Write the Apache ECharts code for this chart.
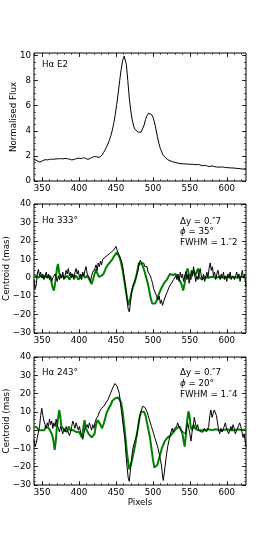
<!DOCTYPE html>
<html><head><meta charset="utf-8">
<script src="https://cdn.jsdelivr.net/npm/echarts@6/dist/echarts.min.js"></script>
<style>html,body{margin:0;padding:0;background:#fff}#c{width:273px;height:539px}</style>
</head><body><div id="c"></div>
<script>
// ---------- data ----------
const xMin = 339, xMax = 626;
const xTicks = [350, 400, 450, 500, 550, 600];
const fluxTicks = [0, 2, 4, 6, 8, 10];
const centTicks = [-30, -20, -10, 0, 10, 20, 30, 40];

const fluxX = [339,341,343,345,347,349,351,354,357,360,363,366,369,372,375,378,381,384,387,390,392,394,397,400,403,406,409,412,415,418,421,424,427,429,431,433,435,437,439,441,443,445,447,449,451,453,455,457,459,461,462,464,466,468,470,472,474,476,478,480,482,484,486,488,490,492,494,496,498,500,502,504,506,508,510,512,514,517,520,523,526,530,534,538,542,546,550,554,558,562,565,568,571,574,577,580,583,586,590,594,598,602,606,610,614,618,622,626];
const fluxY = [1.74,1.68,1.62,1.55,1.50,1.52,1.62,1.70,1.68,1.72,1.74,1.73,1.77,1.76,1.79,1.76,1.80,1.78,1.74,1.68,1.62,1.72,1.80,1.82,1.78,1.86,1.80,1.72,1.80,1.90,1.95,1.93,1.88,1.92,2.05,2.25,2.45,2.70,2.95,3.25,3.60,4.05,4.60,5.30,6.10,7.00,8.00,8.90,9.60,9.95,9.85,9.30,8.00,6.60,5.60,4.85,4.35,4.10,3.95,3.88,3.85,3.90,4.05,4.45,4.90,5.20,5.40,5.45,5.30,5.10,4.70,4.15,3.55,3.00,2.60,2.30,2.05,1.85,1.70,1.62,1.55,1.48,1.42,1.38,1.36,1.36,1.33,1.33,1.30,1.32,1.25,1.22,1.25,1.18,1.15,1.20,1.15,1.12,1.10,1.12,1.08,1.06,1.04,1.03,1.00,0.98,0.95,0.93];

// Panel 2 (H alpha 333 deg) - observed (black)
const p2BlackX = [339,340.5,342,343.5,345,346.5,348,349.5,351,352.5,354,355.5,357,358.5,360,361.5,363,364.5,366,367.5,369,370.5,372,373.5,375,376.5,378,379.5,381,382.5,384,385.5,387,388.5,390,391.5,393,394.5,396,397.5,399,400.5,402,403.5,405,406.5,408,409.5,411,412.5,414,415.5,417,418.5,420,421.5,423,424.5,426,427.5,429,430.5,432,433.5,435,436.5,438,439.5,441,442.5,444,445.5,447,448.5,450,451.5,453,454.5,456,457.5,459,460.5,462,463.5,465,466.5,468,469.5,471,472.5,474,475.5,477,478.5,480,481.5,483,484.5,486,487.5,489,490.5,492,493.5,495,496.5,498,499.5,501,502.5,504,505.5,507,508.5,510,511.5,513,514.5,516,517.5,519,520.5,522,523.5,525,526.5,528,529.5,531,532.5,534,535.5,537,538.5,540,541.5,543,544.5,546,547.5,549,550.5,552,553.5,555,556.5,558,559.5,561,562.5,564,565.5,567,568.5,570,571.5,573,574.5,576,577.5,579,580.5,582,583.5,585,586.5,588,589.5,591,592.5,594,595.5,597,598.5,600,601.5,603,604.5,606,607.5,609,610.5,612,613.5,615,616.5,618,619.5,621,622.5,624,625.5,626];
const p2BlackY = [-1,-6,-4,2,4.5,1,3,0,2,-1,1,3,0,2,-1,1,-2,0,-1,2,0,-2,1,-1,2,0,3,-1,1,4,2,5,1,3,0,2,-1,3,5,2,4,0,2,-1,3,1,4,6,2,3,0,-2,1,3,2,5,7,4,8,6,9,7,10,9,11,10,12,11,13,12,14,13,15,16,17,15,14,12,11,9,6,2,-2,-7,-12,-17,-18.5,-14,-8,-5,-3,-2,0,1,4,8,9.5,8,7,8,6,5,6,3,2,1,-1,-3,-6,-5,-9,-8,-12,-10,-14,-12,-15,-13,-11,-12,-8,-9,-5,-6,-3,-4,-1,-2,1,-1,2,-2,3,0,2,-2,1,3,-1,2,-3,0,4,1,6,2,-2,1,-1,3,5,1,-1,2,-2,0,3,0,5,8,4,6,1,3,-1,2,4,1,-1,2,0,3,-1,1,-2,2,0,3,-1,1,2,-1,1,3,0,2,-2,1,4,0,2,-3,-5];
// Panel 2 - model (green)
const p2GreenX = [339,342,345,348,351,354,357,360,362,364,366,368,370,371.5,373,375,378,381,384,387,390,393,396,399,402,405,408,411,414,417,419,421,423,425,427,430,433,436,439,442,445,448,451,453,455,457,459,461,463,465,467,469,471,473,475,477,479,481,483,485,487,489,491,493,495,497,499,501,503,505,507,509,511,513,515,517,519,521,523,525,527,529,531,533,535,537,539,541,543,545,547,549,551,553,555,557,559,561,563,565,567,569,571,575,580,585,590,595,600,605,610,615,620,626];
const p2GreenY = [0,1,0,1,0,1,0,1,-1,-5,-7,-2,5,7.5,3,0,1,0,1,-1,2,0,1,-1,0,2,0,1,-1,-3.5,-1,2,4.5,2,0.5,1,2,5,7,8.5,10,12,13.8,13,11,8,4,-1,-6,-11,-15,-12,-8,-5,-3,0,4,8,9,7.5,5.5,3,0,-3,-7,-11,-14,-14.5,-14,-12.5,-10,-8,-6,-4.5,-3,-2,-1,0,2,3,1.5,1,2,0,-1,-2,-4,-7,-3,3,5,1,-1,2,4,1,3,5,0,1,-1,0.5,0,0,0.5,0,0.5,0,0.5,0,0.5,0,0.5,0];

// Panel 3 (H alpha 243 deg) - observed (black)
const p3BlackX = [339,340.5,342,343.5,345,346.5,348,349.5,351,352.5,354,355.5,357,358.5,360,361.5,363,364.5,366,367.5,369,370.5,372,373.5,375,376.5,378,379.5,381,382.5,384,385.5,387,388.5,390,391.5,393,394.5,396,397.5,399,400.5,402,403.5,405,406.5,408,409.5,411,412.5,414,415.5,417,418.5,420,421.5,423,424.5,426,427.5,429,430.5,432,433.5,435,436.5,438,439.5,441,442.5,444,445.5,447,448.5,450,451.5,453,454.5,456,457.5,459,460.5,462,463.5,465,466.5,468,469.5,471,472.5,474,475.5,477,478.5,480,481.5,483,484.5,486,487.5,489,490.5,492,493.5,495,496.5,498,499.5,501,502.5,504,505.5,507,508.5,510,511.5,513,514,515.5,517,518.5,520,521.5,523,524.5,526,527.5,529,530.5,532,533.5,535,536.5,538,539.5,541,542.5,544,545.5,547,548.5,550,551.5,553,554.5,556,557.5,559,560.5,562,563.5,565,566.5,568,569.5,571,572.5,574,575.5,577,578.5,580,581.5,583,584.5,586,587.5,589,590.5,592,593.5,595,596.5,598,599.5,601,602.5,604,605.5,607,608.5,610,611.5,613,614.5,616,617.5,619,620.5,622,623.5,625,626];
const p3BlackY = [-5,-9,-7,-4,-3,2,8,12,8,5,3,1,4,2,6,3,5,1,4,2,6,3,1,-1,2,0,-2,1,-1,2,0,-1,-3,-1,2,5,3,1,4,2,0,2,-1,-3,-5,-2,1,0,3,1,4,2,0,3,1,4,6,5,8,10,9,12,11,13,12,15,14,17,18,20,21,23,24,25.5,24.5,24,22,20,15,10,5,0,-5,-13,-20,-26,-28,-22,-16,-11,-8,-6,-4,-2,2,6,9,11,13,14,12.5,12,10,8,6,4,2,0,-2,-4,-6,-8,-10,-13,-16,-19,-25,-27.5,-23,-18,-13,-9,-6,-3,-1,1,-1,1,0,2,4,2,3,0,1,-1,0,-2,1,4,1,-2,-6,-1,2,7,4,1,3,0,1,-1,0,-1,1,0,-1,0,2,8,11,7,9,11,12,8,4,0,-2,1,-1,0,2,4,1,0,-2,-1,2,0,3,1,-2,-3,1,0,4,2,-1,-4,-2,-6,-9];
// Panel 3 - model (green)
const p3GreenX = [339,341,343,345,347,349,351,353,355,357,359,361,363,365,367,368.5,370,371.5,373,374.5,376,378,380,382,384,386,388,390,392,394,396,398,400,402,404,406,407.5,409,411,413,415,417,419,421,423,425,427,429,431,433,435,437,439,441,443,445,447,449,451,453,455,457,459,461,463,465,467,468,470,472,474,476,478,480,482,484,486,488,490,492,494,496,498,500,502,504,506,508,510,512,514,516,518,520,522,524,526,528,530,532,534,536,538,540,541.5,543,544.5,546,548,549.5,551,553,555,557,559,561,563,565,570,575,580,585,590,595,600,605,610,615,620,626];
const p3GreenY = [2,1,1.5,0,-1,0,1,0,2,3,1,0,-2,-5,-10.8,-6,2,6,11,8,2,1,0,1,-1,2,0,1,0,1,-1,0,-1,-2,-4,2,5.5,1,0,-2,-3,-4,-5,-2,3,5.5,6.5,3,1,3,6,9,11,12,14,16,17,17.5,18,17.8,17.5,15,10,3,-5,-13,-19,-21.5,-19,-16,-12,-8,-3,2,7,10,11,10,8,4,0,-4,-10,-16,-20.5,-21,-19,-16,-13,-10,-8,-6,-5,-4,-4.5,-3,-2,-1,0,1,1.5,2,1,-2,-6,-9,-3,4,10.3,8,2,0,3,1,2,0,1,0,0,0.5,0,0.5,0,0,0.5,0,0,0.5,0,0.5];

// ---------- helpers ----------
const zip = (xs, ys) => xs.map((x, i) => [x, ys[i]]);
const range = (a, b, s) => { const r = []; for (let v = a; v <= b + 1e-9; v += s) r.push(+v.toFixed(4)); return r; };
const FONT = 'DejaVu Sans';
const FS = 8.7;
const fmt = v => String(v).replace('-', '\u2212');

const grids = [
  {left: 34, top: 53, width: 212, height: 128},
  {left: 34, top: 204, width: 212, height: 129},
  {left: 34, top: 357, width: 212, height: 128}
];
const yConf = [
  {min: 0, max: 10.2, major: fluxTicks, minor: range(0, 10, 0.5), name: 'Normalised Flux', gap: 16},
  {min: -30, max: 40, major: centTicks, minor: range(-30, 40, 2), name: 'Centroid (mas)', gap: 23},
  {min: -30, max: 40, major: centTicks, minor: range(-30, 40, 2), name: 'Centroid (mas)', gap: 23}
];
const xMinor = range(340, 620, 10);

const xAxis = [], yAxis = [];
grids.forEach((g, gi) => {
  const xBase = {gridIndex: gi, type: 'value', min: xMin, max: xMax, splitLine: {show: false},
    axisLine: {show: false, onZero: false}};
  xAxis.push(Object.assign({}, xBase, {position: 'bottom',
    axisTick: {show: true, inside: true, length: 4, customValues: xTicks, lineStyle: {color: '#000', width: 0.8}},
    axisLabel: {show: true, customValues: xTicks, margin: 3, fontSize: FS, fontFamily: FONT, color: '#000'},
    name: gi === 2 ? 'Pixels' : '', nameLocation: 'middle', nameGap: 13, nameMoveOverlap: false,
    nameTextStyle: {fontSize: FS, fontFamily: FONT, color: '#000'}}));
  xAxis.push(Object.assign({}, xBase, {position: 'bottom',
    axisTick: {show: true, inside: true, length: 2, customValues: xMinor, lineStyle: {color: '#000', width: 0.6}},
    axisLabel: {show: false}}));
  xAxis.push(Object.assign({}, xBase, {position: 'top',
    axisTick: {show: true, inside: true, length: 4, customValues: xTicks, lineStyle: {color: '#000', width: 0.8}},
    axisLabel: {show: false}}));
  xAxis.push(Object.assign({}, xBase, {position: 'top',
    axisTick: {show: true, inside: true, length: 2, customValues: xMinor, lineStyle: {color: '#000', width: 0.6}},
    axisLabel: {show: false}}));
  const c = yConf[gi];
  const yBase = {gridIndex: gi, type: 'value', min: c.min, max: c.max, splitLine: {show: false},
    axisLine: {show: false, onZero: false}};
  yAxis.push(Object.assign({}, yBase, {position: 'left',
    axisTick: {show: true, inside: true, length: 4, customValues: c.major, lineStyle: {color: '#000', width: 0.8}},
    axisLabel: {show: true, customValues: c.major, margin: 3, fontSize: FS, fontFamily: FONT, color: '#000', formatter: fmt},
    name: c.name, nameLocation: 'middle', nameGap: c.gap, nameMoveOverlap: false,
    nameTextStyle: {fontSize: FS, fontFamily: FONT, color: '#000'}}));
  yAxis.push(Object.assign({}, yBase, {position: 'left',
    axisTick: {show: true, inside: true, length: 2, customValues: c.minor, lineStyle: {color: '#000', width: 0.6}},
    axisLabel: {show: false}}));
  yAxis.push(Object.assign({}, yBase, {position: 'right',
    axisTick: {show: true, inside: true, length: 4, customValues: c.major, lineStyle: {color: '#000', width: 0.8}},
    axisLabel: {show: false}}));
  yAxis.push(Object.assign({}, yBase, {position: 'right',
    axisTick: {show: true, inside: true, length: 2, customValues: c.minor, lineStyle: {color: '#000', width: 0.6}},
    axisLabel: {show: false}}));
});

const line = (gi, data, color, width) => ({
  type: 'line', xAxisIndex: gi * 4, yAxisIndex: gi * 4, data: data, showSymbol: false, symbol: 'none',
  lineStyle: {color: color, width: width}, animation: false, silent: true, clip: true
});
const GREEN = '#008000';
const series = [
  line(0, zip(fluxX, fluxY), '#000', 1),
  line(1, zip(p2GreenX, p2GreenY), GREEN, 2),
  line(1, zip(p2BlackX, p2BlackY), '#000', 1),
  line(2, zip(p3GreenX, p3GreenY), GREEN, 2),
  line(2, zip(p3BlackX, p3BlackY), '#000', 1)
];

const rich = {it: {fontStyle: 'italic', fontSize: FS, fontFamily: FONT, fill: '#000'}};
const mkText = (x, y, t) => ({type: 'text', x: x, y: y, silent: true,
  style: {text: t, fontSize: FS, fontFamily: FONT, fill: '#000', verticalAlign: 'middle', rich: rich}});

const graphic = [
  mkText(42, 65, 'H\u03b1 E2'),
  mkText(42, 221, 'H\u03b1 333\u00b0'),
  mkText(180, 222, '\u0394y = 0.\u20337'),
  mkText(180, 232, '{it|\u03d5} = 35\u00b0'),
  mkText(180, 243, 'FWHM = 1.\u20332'),
  mkText(42, 373, 'H\u03b1 243\u00b0'),
  mkText(180, 373, '\u0394y = 0.\u20337'),
  mkText(180, 383.5, '{it|\u03d5} = 20\u00b0'),
  mkText(180, 394.5, 'FWHM = 1.\u20334')
];

const chart = echarts.init(document.getElementById('c'), null, {renderer: 'canvas'});
chart.setOption({
  animation: false,
  backgroundColor: '#fff',
  grid: grids.map(g => Object.assign({show: true, borderColor: '#000', borderWidth: 1,
    backgroundColor: 'transparent', containLabel: false, outerBoundsMode: 'none'}, g)),
  xAxis: xAxis,
  yAxis: yAxis,
  series: series,
  graphic: graphic
});
</script></body></html>
